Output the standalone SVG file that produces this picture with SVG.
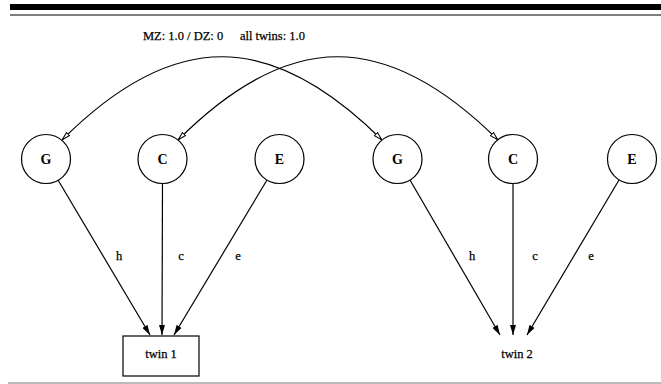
<svg xmlns="http://www.w3.org/2000/svg" width="661" height="384" viewBox="0 0 661 384">
<defs>
<style>
.node circle{fill:#fff;stroke:#000;stroke-width:1.2}
.lbl{font-family:"Liberation Serif","Times New Roman",serif;font-size:14px;font-weight:bold;text-anchor:middle}
.t{font-family:"Liberation Serif","Times New Roman",serif;font-size:12.5px;fill:#000;stroke:#000;stroke-width:0.25}
.e{fill:none;stroke:#000;stroke-width:1.2}
</style>
<marker id="ah" viewBox="0 0 10 6" refX="10" refY="3" markerWidth="10" markerHeight="6" markerUnits="userSpaceOnUse" orient="auto">
<path d="M0,0 L10,3 L0,6 z" fill="#000"/>
</marker>
<marker id="oh" viewBox="0 0 9 6" refX="9" refY="3" markerWidth="9" markerHeight="6" markerUnits="userSpaceOnUse" orient="auto-start-reverse">
<path d="M0.5,0.8 L8.5,3 L0.5,5.2 z" fill="#fff" stroke="#000" stroke-width="1"/>
</marker>
</defs>
<rect width="661" height="384" fill="#fff"/>
<g id="frame">
<rect x="10" y="4" width="651" height="6" fill="#000"/>
<line x1="10" y1="15" x2="661" y2="15" stroke="#000" stroke-width="1.2"/>
<line x1="8" y1="383" x2="661" y2="383" stroke="#777" stroke-width="1"/>
</g>
<g id="title">
<text class="t" x="143" y="40">MZ: 1.0 / DZ: 0</text>
<text class="t" x="240" y="40">all twins: 1.0</text>
</g>
<g id="connectors">
<path class="e" d="M62,140 C173,29 270,29 382,140" marker-start="url(#oh)" marker-end="url(#oh)"/>
<path class="e" d="M178,140 C289,29 386,29 498,140" marker-start="url(#oh)" marker-end="url(#oh)"/>
<line class="e" x1="58" y1="180" x2="150" y2="335" marker-end="url(#ah)"/>
<line class="e" x1="162.5" y1="183.5" x2="162" y2="335" marker-end="url(#ah)"/>
<line class="e" x1="267" y1="180" x2="174" y2="335" marker-end="url(#ah)"/>
<line class="e" x1="410" y1="180" x2="500" y2="335" marker-end="url(#ah)"/>
<line class="e" x1="513" y1="183.5" x2="513" y2="335" marker-end="url(#ah)"/>
<line class="e" x1="619" y1="180" x2="527" y2="335" marker-end="url(#ah)"/>
<text class="t" x="119" y="260" text-anchor="middle">h</text>
<text class="t" x="181" y="260" text-anchor="middle">c</text>
<text class="t" x="238" y="260" text-anchor="middle">e</text>
<text class="t" x="472" y="260" text-anchor="middle">h</text>
<text class="t" x="535" y="260" text-anchor="middle">c</text>
<text class="t" x="591" y="260" text-anchor="middle">e</text>
</g>
<g id="G1" class="node"><circle cx="46" cy="159" r="24.5"/><text class="lbl" x="46" y="164">G</text></g>
<g id="C1" class="node"><circle cx="162.5" cy="159" r="24.5"/><text class="lbl" x="162.5" y="164">C</text></g>
<g id="E1" class="node"><circle cx="279.5" cy="159" r="24.5"/><text class="lbl" x="279.5" y="164">E</text></g>
<g id="G2" class="node"><circle cx="397.5" cy="159" r="24.5"/><text class="lbl" x="397.5" y="164">G</text></g>
<g id="C2" class="node"><circle cx="513" cy="159" r="24.5"/><text class="lbl" x="513" y="164">C</text></g>
<g id="E2" class="node"><circle cx="632" cy="159" r="24.5"/><text class="lbl" x="632" y="164">E</text></g>
<g id="twin1"><rect x="123" y="336" width="76" height="40" fill="#fff" stroke="#000" stroke-width="1.2"/><text class="t" x="161" y="358" text-anchor="middle">twin 1</text></g>
<g id="twin2"><text class="t" x="517" y="358" text-anchor="middle">twin 2</text></g>
</svg>
